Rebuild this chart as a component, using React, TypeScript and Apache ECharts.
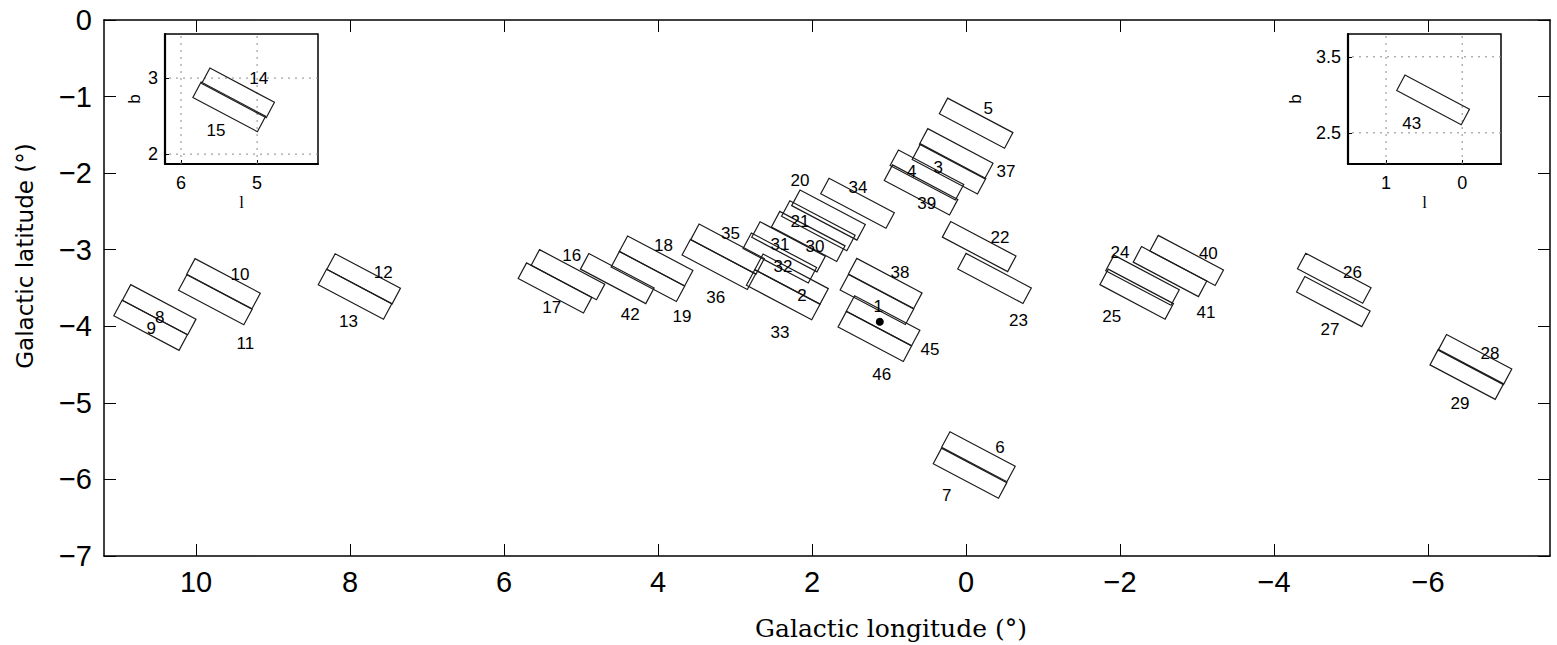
import React, { useEffect, useRef } from 'react';
import * as echarts from 'echarts';

// ---- field geometry (degrees) ----
const RECT_LENGTH = 0.96;
const RECT_WIDTH = 0.23;
const RECT_ANGLE_DEG = 28;

// ---- main panel fields ----
const fieldIds = ['1','2','3','4','5','6','7','8','9','10','11','12','13','16','17','18','19','20','21','22','23','24','25','26','27','28','29','30','31','32','33','34','35','36','37','38','39','40','41','42','45','46'];
const fieldL = [1.157,2.266,0.221,0.508,-0.131,-0.161,-0.052,10.478,10.59,9.643,9.749,7.823,7.935,5.169,5.338,4.025,4.131,1.786,1.918,-0.171,-0.37,-2.292,-2.216,-4.782,-4.77,-6.61,-6.503,2.049,2.305,2.418,2.374,1.409,3.097,3.21,0.127,1.049,0.584,-2.866,-2.649,4.529,1.077,1.184];
const fieldB = [-3.65,-3.384,-1.945,-2.024,-1.347,-5.704,-5.918,-3.783,-3.987,-3.444,-3.653,-3.38,-3.582,-3.326,-3.499,-3.147,-3.349,-2.548,-2.687,-2.959,-3.375,-3.398,-3.58,-3.373,-3.677,-4.435,-4.628,-2.826,-2.962,-3.108,-3.588,-2.393,-2.992,-3.193,-1.746,-3.44,-2.219,-3.14,-3.286,-3.377,-3.928,-4.132];
const labelL = [1.139,2.13,0.36,0.705,-0.29,-0.44,0.25,10.47,10.58,9.43,9.36,7.57,8.02,5.12,5.38,3.93,3.69,2.156,2.156,-0.44,-0.68,-2.0,-1.892,-5.02,-4.727,-6.805,-6.416,1.961,2.416,2.377,2.416,1.403,3.06,3.25,-0.52,0.857,0.51,-3.147,-3.117,4.36,0.468,1.095];
const labelB = [-3.743,-3.603,-1.923,-1.98,-1.153,-5.578,-6.214,-3.88,-4.03,-3.33,-4.23,-3.3,-3.94,-3.08,-3.75,-2.95,-3.87,-2.102,-2.637,-2.837,-3.93,-3.038,-3.873,-3.299,-4.047,-4.351,-5.004,-2.963,-2.937,-3.225,-4.086,-2.193,-2.79,-3.63,-1.98,-3.299,-2.393,-3.055,-3.821,-3.84,-4.299,-4.634];
const markerL = [1.12];
const markerB = [-3.94];

// ---- inset fields ----
const insetLeftIds = ['14','15'];
const insetLeftL = [5.25,5.366];
const insetLeftB = [2.805,2.622];
const insetLeftLabelL = [4.98,5.54];
const insetLeftLabelB = [2.996,2.307];

const insetRightIds = ['43'];
const insetRightL = [0.382];
const insetRightB = [2.934];
const insetRightLabelL = [0.662];
const insetRightLabelB = [2.618];

// ---- axes ----
const mainX = { min: -7.584, max: 11.195 };
const mainY = { min: -7, max: 0 };
const mainXTicks = [10, 8, 6, 4, 2, 0, -2, -4, -6];
const mainYTicks = [0, -1, -2, -3, -4, -5, -6, -7];
const insetLeftX = { min: 4.2, max: 6.21 };
const insetLeftY = { min: 1.87, max: 3.58 };
const insetLeftXTicks = [5, 6];
const insetLeftYTicks = [2, 3];
const insetRightX = { min: -0.51, max: 1.5 };
const insetRightY = { min: 2.09, max: 3.8 };
const insetRightXTicks = [0, 1];
const insetRightYTicks = [2.5, 3.5];

const FONT = 'Liberation Sans, Arial, Helvetica, sans-serif';
const fmt = (v: number) => (v < 0 ? '\u2212' : '') + String(Math.abs(v));

function renderRect(params: any, api: any) {
  const l = api.value(0);
  const b = api.value(1);
  const t = (RECT_ANGLE_DEG * Math.PI) / 180;
  const ux = -Math.cos(t), uy = -Math.sin(t);
  const vx = -Math.sin(t), vy = Math.cos(t);
  const hl = RECT_LENGTH / 2, hw = RECT_WIDTH / 2;
  const pts = [[-1, -1], [1, -1], [1, 1], [-1, 1]].map(([a, c]) =>
    api.coord([l + a * hl * ux + c * hw * vx, b + a * hl * uy + c * hw * vy])
  );
  return {
    type: 'polygon',
    shape: { points: pts },
    style: { fill: 'none', stroke: '#1c1c1c', lineWidth: 1.2 },
  };
}

function rectSeries(ls: number[], bs: number[], axisIdx: number) {
  return {
    type: 'custom',
    xAxisIndex: axisIdx,
    yAxisIndex: axisIdx,
    silent: true,
    renderItem: renderRect,
    data: ls.map((l, i) => [l, bs[i]]),
    z: 5,
  };
}

function labelSeries(ids: string[], ls: number[], bs: number[], axisIdx: number, size: number) {
  return {
    type: 'scatter',
    xAxisIndex: axisIdx,
    yAxisIndex: axisIdx,
    silent: true,
    symbolSize: 1,
    itemStyle: { color: 'rgba(0,0,0,0)', opacity: 1 },
    label: {
      show: true,
      position: 'inside',
      formatter: (p: any) => p.name,
      color: '#000',
      opacity: 1,
      textBorderWidth: 0,
      fontSize: size,
      fontFamily: FONT,
    },
    data: ids.map((id, i) => ({ name: id, value: [ls[i], bs[i]] })),
    z: 6,
  };
}

function gridLineSeries(xVals: number[], yVals: number[], xr: any, yr: any, axisIdx: number) {
  const out: any[] = [];
  const ls = { color: '#8a8a8a', width: 1, type: [2, 5] };
  xVals.forEach((x) => {
    out.push({ type: 'line', xAxisIndex: axisIdx, yAxisIndex: axisIdx, silent: true, symbol: 'none', lineStyle: ls, data: [[x, yr.min], [x, yr.max]], z: 4 });
  });
  yVals.forEach((y) => {
    out.push({ type: 'line', xAxisIndex: axisIdx, yAxisIndex: axisIdx, silent: true, symbol: 'none', lineStyle: ls, data: [[xr.min, y], [xr.max, y]], z: 4 });
  });
  return out;
}

function mainXAxis(position: string, showLabels: boolean) {
  return {
    type: 'value',
    gridIndex: 0,
    position,
    inverse: true,
    min: mainX.min,
    max: mainX.max,
    axisLine: { show: true, onZero: false, lineStyle: { color: '#000', width: 1.5 } },
    axisTick: { show: true, inside: true, length: 12, customValues: mainXTicks, lineStyle: { color: '#000', width: 1 } },
    axisLabel: { show: showLabels, customValues: mainXTicks, formatter: fmt, fontSize: 29, color: '#000', fontFamily: FONT, margin: 11 },
    splitLine: { show: false },
  };
}

function mainYAxis(position: string, showLabels: boolean) {
  return {
    type: 'value',
    gridIndex: 0,
    position,
    min: mainY.min,
    max: mainY.max,
    axisLine: { show: true, onZero: false, lineStyle: { color: '#000', width: 1.5 } },
    axisTick: { show: true, inside: true, length: 12, customValues: mainYTicks, lineStyle: { color: '#000', width: 1 } },
    axisLabel: { show: showLabels, customValues: mainYTicks, formatter: fmt, fontSize: 29, color: '#000', fontFamily: FONT, margin: 12 },
    splitLine: { show: false },
  };
}

function insetXAxis(gridIndex: number, r: any, ticks: number[], nameGap: number) {
  return {
    type: 'value',
    gridIndex,
    position: 'bottom',
    inverse: true,
    min: r.min,
    max: r.max,
    name: 'l',
    nameLocation: 'middle',
    nameGap,
    nameTextStyle: { fontSize: 17, color: '#000', fontFamily: '"Liberation Serif", serif' },
    axisLine: { show: true, onZero: false, lineStyle: { color: '#000', width: 2.2 } },
    axisTick: { show: true, inside: true, length: 4, customValues: ticks, lineStyle: { color: '#000' } },
    axisLabel: { show: true, customValues: ticks, formatter: (v: number) => String(v), fontSize: 18, color: '#000', fontFamily: FONT, margin: 10 },
    splitLine: { show: false },
  };
}

function insetYAxis(gridIndex: number, r: any, ticks: number[], nameGap: number, dec: number) {
  return {
    type: 'value',
    gridIndex,
    position: 'left',
    min: r.min,
    max: r.max,
    name: 'b',
    nameLocation: 'middle',
    nameRotate: 90,
    nameGap,
    nameTextStyle: { fontSize: 17, color: '#000', fontFamily: FONT },
    axisLine: { show: true, onZero: false, lineStyle: { color: '#000', width: 2.2 } },
    axisTick: { show: true, inside: true, length: 4, customValues: ticks, lineStyle: { color: '#000' } },
    axisLabel: { show: true, customValues: ticks, formatter: (v: number) => v.toFixed(dec), fontSize: 18, color: '#000', fontFamily: FONT, margin: 7 },
    splitLine: { show: false },
  };
}

export default function App() {
  const ref = useRef<HTMLDivElement>(null);
  useEffect(() => {
    if (!ref.current) return;
    const chart = echarts.init(ref.current, undefined, { renderer: 'svg' });
    const option: any = {
      animation: false,
      backgroundColor: '#fff',
      grid: [
        { left: 104, top: 20, width: 1446, height: 536, show: false },
        { left: 165, top: 34, width: 153, height: 130, show: true, backgroundColor: '#fff', borderColor: '#000', borderWidth: 1.5 },
        { left: 1348, top: 34, width: 153, height: 130, show: true, backgroundColor: '#fff', borderColor: '#000', borderWidth: 1.5 },
      ],
      xAxis: [
        mainXAxis('bottom', true),
        mainXAxis('top', false),
        insetXAxis(1, insetLeftX, insetLeftXTicks, 30),
        insetXAxis(2, insetRightX, insetRightXTicks, 30),
      ],
      yAxis: [
        mainYAxis('left', true),
        mainYAxis('right', false),
        insetYAxis(1, insetLeftY, insetLeftYTicks, 22, 0),
        insetYAxis(2, insetRightY, insetRightYTicks, 44, 1),
      ],
      graphic: [
        {
          type: 'text',
          x: 891,
          y: 628,
          style: { text: 'Galactic longitude (\u00b0)', font: '25px "DejaVu Serif", serif', fill: '#000', textAlign: 'center', textVerticalAlign: 'middle', align: 'center', verticalAlign: 'middle' },
        },
        {
          type: 'text',
          x: 25,
          y: 256,
          rotation: Math.PI / 2,
          style: { text: 'Galactic latitude (\u00b0)', font: '23px "DejaVu Sans", sans-serif', fill: '#000', textAlign: 'center', textVerticalAlign: 'middle', align: 'center', verticalAlign: 'middle' },
        },
      ],
      series: [
        rectSeries(fieldL, fieldB, 0),
        labelSeries(fieldIds, labelL, labelB, 0, 17),
        {
          type: 'scatter',
          xAxisIndex: 0,
          yAxisIndex: 0,
          silent: true,
          symbolSize: 8,
          itemStyle: { color: '#000', opacity: 1 },
          data: markerL.map((l, i) => [l, markerB[i]]),
          z: 7,
        },
        ...gridLineSeries(insetLeftXTicks, insetLeftYTicks, insetLeftX, insetLeftY, 2),
        rectSeries(insetLeftL, insetLeftB, 2),
        labelSeries(insetLeftIds, insetLeftLabelL, insetLeftLabelB, 2, 17),
        ...gridLineSeries(insetRightXTicks, insetRightYTicks, insetRightX, insetRightY, 3),
        rectSeries(insetRightL, insetRightB, 3),
        labelSeries(insetRightIds, insetRightLabelL, insetRightLabelB, 3, 17),
      ],
    };
    chart.setOption(option);
    return () => chart.dispose();
  }, []);
  return <div ref={ref} style={{ position: 'fixed', left: 0, top: 0, width: 1557, height: 645, background: '#fff' }} />;
}
